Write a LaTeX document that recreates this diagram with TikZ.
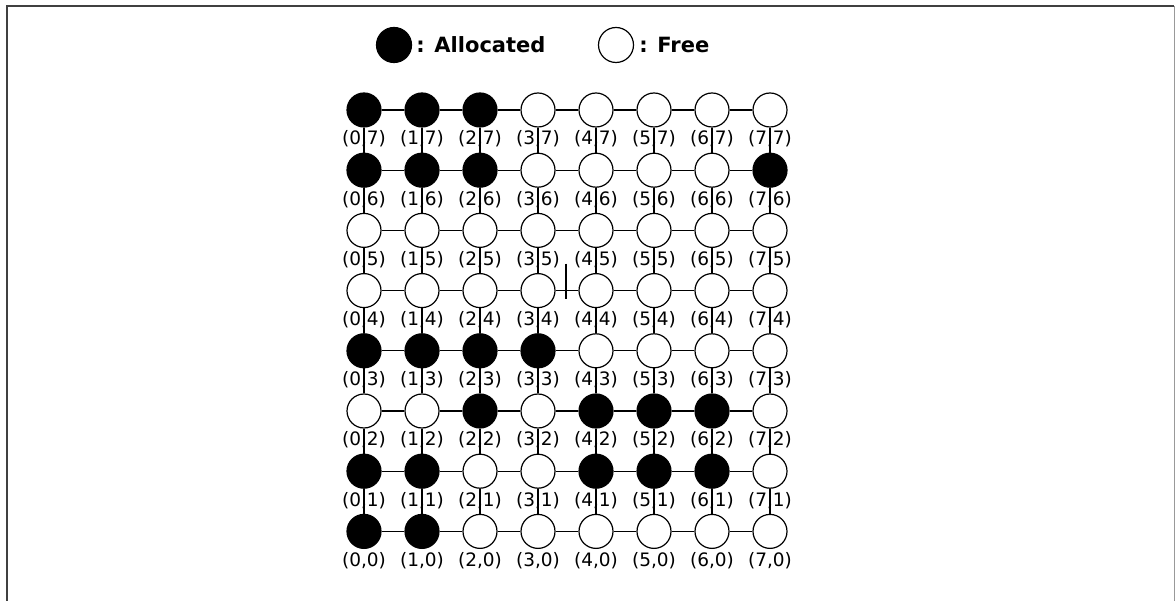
\documentclass[tikz,border=0pt]{standalone}
\usepackage{fontspec}
\setmainfont{DejaVu Sans}
\usetikzlibrary{positioning, calc}

\begin{document}
\begin{tikzpicture}[x=1pt, y=-1pt]
\tikzset{
    pe/.style={circle, draw, line width=1.2pt, minimum size=34pt, inner sep=0pt, fill=white},
    st0/.style={pe},
    st1/.style={pe, fill=black},
    coord/.style={font=\fontsize{18.5}{20}\selectfont, inner sep=0pt},
    link/.style={line width=1.2pt},
    legend/.style={font=\bfseries\fontsize{21}{24}\selectfont, inner sep=0pt}
}
\useasboundingbox (0,0) rectangle (1175,601);
\draw[line width=2pt, black!75] (7,601) -- (7,6) -- (1174,6);
\draw[line width=0.8pt, black!40] (1174,6) -- (1174,601);

\node[st1, minimum size=35pt] (keyA) at (394,45) {};
\node[legend, right=4pt of keyA] (txtA) {: Allocated};
\node[st0, minimum size=35pt] (keyF) at (616,45) {};
\node[legend, right=5pt of keyF] (txtF) {: Free};

\foreach \j/\pat in {7/{1,1,1,0,0,0,0,0}, 6/{1,1,1,0,0,0,0,1},
                     5/{0,0,0,0,0,0,0,0}, 4/{0,0,0,0,0,0,0,0},
                     3/{1,1,1,1,0,0,0,0}, 2/{0,0,1,0,1,1,1,0},
                     1/{1,1,0,0,1,1,1,0}, 0/{1,1,0,0,0,0,0,0}} {
    \foreach \s [count=\i from 0] in \pat {
        \node[st\s] (n\i\j) at ({364+58*\i},{110+60.2*(7-\j)}) {};
        \node[coord, below=3pt of n\i\j] (l\i\j) {(\i,\j)};
    }
}

\foreach \j in {0,...,7} {
    \foreach \i [evaluate=\i as \k using int(\i+1)] in {0,...,6} {
        \draw[link] (n\i\j) -- (n\k\j);
    }
}
\foreach \i in {0,...,7} {
    \foreach \j [evaluate=\j as \k using int(\j+1)] in {0,...,6} {
        \draw[link] (n\i\j) -- (n\i\k);
    }
}

\coordinate (tick) at ($(n34)!0.5!(n44)$);
\draw[link] ([xshift=-1pt, yshift=27pt]tick) -- ([xshift=-1pt, yshift=-8pt]tick);
\end{tikzpicture}
\end{document}
